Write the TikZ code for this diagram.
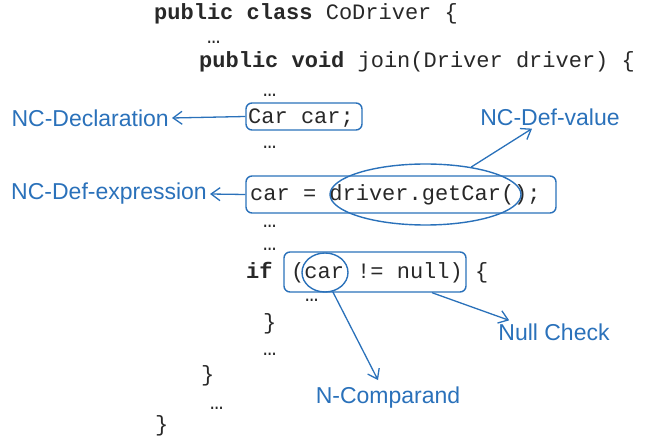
\documentclass[tikz,border=0pt]{standalone}
\usepackage{fontspec}
\setmainfont{Liberation Sans}
\newfontfamily\codefont{Liberation Mono}
\usetikzlibrary{shapes.geometric,arrows.meta,calc}
\definecolor{lblue}{RGB}{42,113,186}
\definecolor{codeink}{RGB}{40,40,40}
\tikzset{
  code/.style={anchor=base west, inner sep=0pt, font=\codefont\fontsize{22}{24}\selectfont, text=codeink},
  hlbox/.style={draw=lblue, line width=1.4pt, rounded corners=6pt, inner sep=0pt},
  hlell/.style={draw=lblue, line width=1.4pt, ellipse, inner sep=0pt},
  lbl/.style={font=\fontsize{23}{26}\selectfont, text=lblue, inner sep=3pt},
  pointer/.style={draw=lblue, line width=1.3pt, -{Straight Barb[length=9pt,width=13pt,line width=1.3pt]}}
}
\begin{document}
\begin{tikzpicture}[x=1pt,y=-1pt]
\useasboundingbox (0,0) rectangle (662,438);
% code lines
\node[code] (l1) at (154,20) {\textbf{public class} CoDriver \{};
\node[code] (l2) at (207,44) {…};
\node[code] (l3) at (199,68) {\textbf{public void} join(Driver driver) \{};
\node[code] (l4) at (263,97) {…};
\node[code] (l5) at (248,124) {Car car;};
\node[code] (l6) at (263,149) {…};
\node[code] (l7) at (250,201) {car = driver.getCar();};
\node[code] (l8) at (263,228) {…};
\node[code] (l9) at (263,251) {…};
\node[code] (l10a) at (246,279) {\textbf{if}};
\node[code] (l10b) at (291,279) {(car != null)};
\node[code] (l10c) at (475,279) {\{};
\node[code] (l11) at (305,302) {…};
\node[code] (l12) at (263,330) {\}};
\node[code] (l13) at (263,356) {…};
\node[code] (l14) at (201,382) {\}};
\node[code] (l15) at (210,410) {…};
\node[code] (l16) at (155,432) {\}};
% highlight shapes
\node[hlbox, minimum width=116pt, minimum height=27pt] (declbox) at (304,116.5) {};
\node[hlbox, minimum width=310pt, minimum height=37pt] (defbox) at (401,194.5) {};
\node[hlbox, minimum width=182pt, minimum height=40pt] (ifbox) at (375,272) {};
\node[hlell, minimum width=191pt, minimum height=61pt] (defell) at (425.5,194.5) {};
\node[hlell, minimum width=46pt, minimum height=39pt] (carell) at (325,272.5) {};
% labels
\node[lbl, anchor=east] (ncdecl) at (172,118) {NC-Declaration};
\node[lbl, anchor=east] (ncexpr) at (210,194) {NC-Def-expression};
\node[lbl] (ncval) at (550,117) {NC-Def-value};
\node[lbl] (nullc) at (554,332) {Null Check};
\node[lbl] (ncomp) at (388,398) {N-Comparand};
% pointers
\draw[pointer] (declbox.west) -- (ncdecl.east);
\draw[pointer] (defbox.west) -- (ncexpr.east);
\draw[pointer] (defell.31) -- ($(ncval.south)+(-18,0)$);
\draw[pointer] ($(ifbox.south)+(57,0)$) -- ($(nullc.north west)+(14,0)$);
\draw[pointer] (carell.-68) -- ($(ncomp.north)+(-10,-4)$);
\end{tikzpicture}
\end{document}
